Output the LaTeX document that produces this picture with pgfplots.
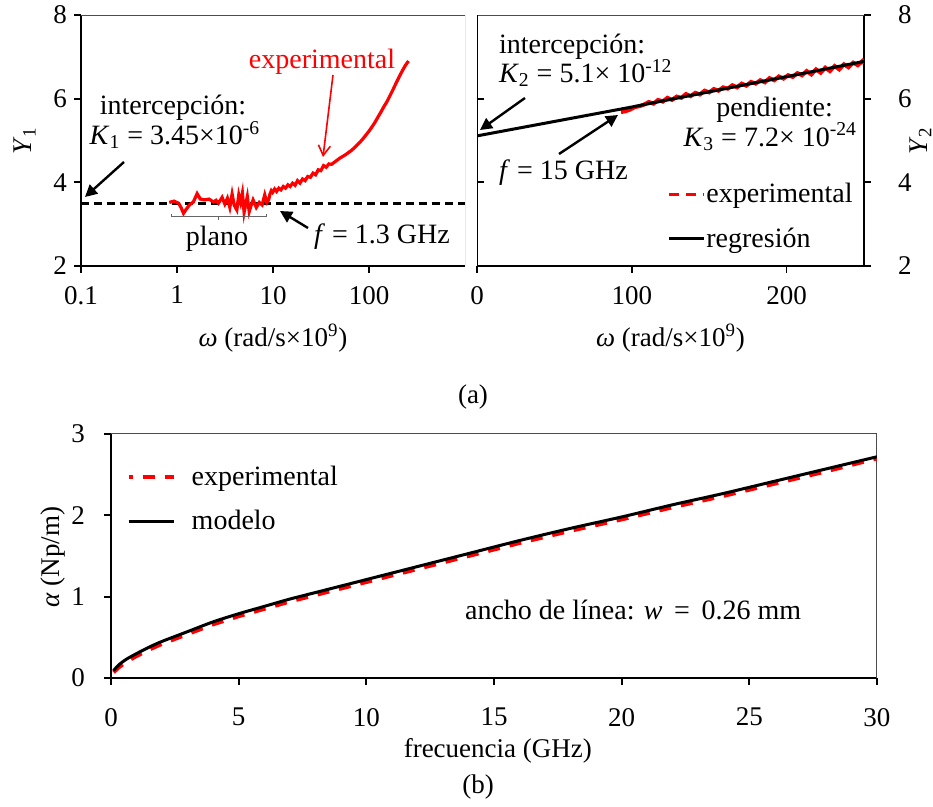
\documentclass[border=0pt]{standalone}
\usepackage{fontspec}
\setmainfont{Liberation Serif}
\usepackage{pgfplots}
\pgfplotsset{compat=1.18}
\usetikzlibrary{arrows.meta}

\newcommand\fs{\fontsize{13.5pt}{16pt}\selectfont}
\newcommand\fsb{\fontsize{14pt}{16pt}\selectfont}

% experimental Y1 (left panel, log frequency axis)
\pgfplotstableread{
w y
0.83 3.52
0.93 3.55
1.04 3.50
1.10 3.40
1.17 3.26
1.25 3.36
1.35 3.46
1.48 3.53
1.62 3.73
1.75 3.60
1.95 3.58
2.15 3.60
2.40 3.53
2.55 3.57
2.70 3.50
2.95 3.64
3.15 3.48
3.35 3.62
3.55 3.40
3.75 3.72
3.95 3.45
4.20 3.34
4.40 3.70
4.60 3.52
4.80 3.74
5.00 3.28
5.20 3.48
5.40 3.66
5.65 3.30
5.90 3.44
6.20 3.58
6.70 3.40
7.20 3.52
7.70 3.46
8.20 3.70
8.60 3.52
9.00 3.58
9.30 3.72
9.60 3.80
9.90 3.76
10.4 3.84
10.9 3.78
11.5 3.86
12.1 3.82
12.8 3.90
13.5 3.86
14.3 3.94
15.1 3.90
16.0 3.98
17.0 3.93
18.0 4.04
19.1 3.98
20.3 4.08
21.6 4.04
23.0 4.14
24.5 4.12
26.1 4.22
27.8 4.18
29.6 4.30
31.5 4.28
33.6 4.40
35.8 4.36
38.2 4.44
40.8 4.43
43.6 4.48
46.6 4.53
49.8 4.58
53.3 4.62
57.0 4.66
61.0 4.71
65.3 4.76
70.0 4.82
75.0 4.89
80.5 4.96
86.4 5.04
92.8 5.13
99.7 5.22
107 5.32
115 5.43
124 5.56
133 5.68
143 5.81
154 5.93
166 6.08
179 6.23
193 6.39
208 6.54
224 6.68
240 6.80
258 6.90
}\yone

% experimental Y2 (right panel)
\pgfplotstableread{
w y
93 5.68
96 5.70
99 5.74
102 5.80
105 5.82
108 5.86
111 5.92
114 5.88
117 5.97
120 5.93
123 6.02
126 5.97
129 6.05
132 6.02
135 6.11
138 6.06
141 6.14
144 6.10
147 6.19
150 6.15
153 6.23
156 6.19
159 6.27
162 6.24
165 6.32
168 6.27
171 6.36
174 6.31
177 6.40
180 6.36
183 6.44
186 6.39
189 6.49
192 6.44
195 6.53
198 6.48
201 6.56
204 6.52
207 6.61
210 6.56
213 6.66
216 6.58
219 6.70
222 6.62
225 6.74
228 6.66
231 6.78
234 6.70
237 6.82
240 6.75
243 6.86
246 6.80
249 6.90
250 6.84
}\ytwo

% regression line for Y2
\pgfplotstableread{
w y
0 5.11
100 5.80
250 6.89
}\yreg

% attenuation: measured and model
\pgfplotstableread{
f exp mod
0.1 0.07 0.09
0.3 0.13 0.16
0.6 0.20 0.23
1 0.27 0.30
1.5 0.35 0.38
2 0.42 0.45
3 0.54 0.57
4 0.66 0.69
5 0.76 0.79
6 0.85 0.88
7 0.94 0.97
8 1.02 1.05
9 1.10 1.13
10 1.18 1.21
12 1.34 1.37
14 1.50 1.53
16 1.66 1.69
18 1.81 1.84
20 1.95 1.98
22 2.10 2.13
24 2.24 2.27
26 2.39 2.42
28 2.54 2.57
30 2.70 2.72
}\alfa

\pgfplotsset{
  panel/.style={
    scale only axis,
    anchor=south west,
    axis line style={line width=0.9pt},
    tick style={line width=0.9pt, black},
    major tick length=3.5pt,
    tick align=outside,
    tick label style={font=\fs},
    label style={font=\fs},
    /pgf/number format/assume math mode=true,
    axis x line*=bottom,
  },
}

\begin{document}
\begin{tikzpicture}[x=1pt, y=1pt]
\useasboundingbox (0,0) rectangle (466.5,403.5);

% ---------- (a) left: Y1 ----------
\begin{axis}[panel,
  at={(40.5pt,270.5pt)}, width=192pt, height=125.5pt,
  axis y line*=left,
  xmode=log, xmin=0.1, xmax=1000, ymin=2, ymax=8,
  xtick={0.1,1,10,100}, xticklabels={0.1,1,10,100},
  xminorticks=false,
  ytick={2,4,6,8},
  xticklabel style={yshift=-3pt},
  xlabel={\textit{ω} (rad/s×10\textsuperscript{9})},
  xlabel style={at={(axis description cs:0.5,-0.287)}, anchor=center},
  ylabel={\textit{Y}\textsubscript{1}},
  ylabel style={at={(axis description cs:-0.147,0.5)}, anchor=center},
]
\draw[black!70, line width=0.5pt] (rel axis cs:0,1) -- (rel axis cs:1,1) -- (rel axis cs:1,0);
\addplot[black, line width=1.3pt, dash pattern=on 4pt off 2.5pt] coordinates {(0.1,3.5) (1000,3.5)};
\addplot[red, line width=1.6pt] table[x=w, y=y] {\yone};
\end{axis}

% ---------- (a) right: Y2 ----------
\begin{axis}[panel,
  at={(238.5pt,270.5pt)}, width=193.5pt, height=125.5pt,
  axis y line*=right,
  xmin=0, xmax=250, ymin=2, ymax=8,
  xtick={0,100,200}, ytick={2,4,6,8},
  xticklabel style={yshift=-3pt},
  yticklabel style={xshift=10pt},
  xlabel={\textit{ω} (rad/s×10\textsuperscript{9})},
  xlabel style={at={(axis description cs:0.5,-0.287)}, anchor=center},
  ylabel={\textit{Y}\textsubscript{2}},
  ylabel style={at={(axis description cs:1.146,0.5)}, anchor=center},
  legend style={draw=none, fill=none, at={(axis description cs:0.491,0.335)},
    anchor=north west, font=\fsb, row sep=10pt, inner sep=0pt,
    nodes={inner sep=0.5pt}},
  legend cell align=left,
]
\draw[black!70, line width=0.5pt] (rel axis cs:0,1) -- (rel axis cs:1,1);
\draw[line width=0.9pt] (rel axis cs:0,0) -- (rel axis cs:0,1);
\draw[line width=0.9pt] (axis cs:0,4) -- ([xshift=3.5pt]axis cs:0,4);
\draw[line width=0.9pt] (axis cs:0,6) -- ([xshift=3.5pt]axis cs:0,6);
\addplot[red, line width=2pt,
  legend image code/.code={\draw[red, line width=1.5pt, dash pattern=on 5pt off 3.5pt] (0pt,0pt) -- (17.5pt,0pt);}]
  table[x=w, y=y] {\ytwo};
\addlegendentry{experimental}
\addplot[black, line width=1.5pt,
  legend image code/.code={\draw[black, line width=1.5pt] (0pt,0pt) -- (17.5pt,0pt);}]
  table[x=w, y=y] {\yreg};
\addlegendentry{regresión}
\end{axis}

% ---------- (b): attenuation ----------
\begin{axis}[panel,
  at={(55.5pt,64.5pt)}, width=383pt, height=122pt,
  axis y line*=left,
  xmin=0, xmax=30, ymin=0, ymax=3,
  xtick={0,5,...,30}, ytick={0,1,2,3},
  xticklabel style={yshift=-8pt},
  yticklabel style={xshift=-6pt},
  xlabel={frecuencia (GHz)},
  xlabel style={at={(axis description cs:0.505,-0.30)}, anchor=center},
  ylabel={\textit{α} (Np/m)},
  ylabel style={at={(axis description cs:-0.0757,0.496)}, anchor=center},
  legend style={draw=none, fill=none, at={(axis description cs:0.02,0.875)},
    anchor=north west, font=\fsb, row sep=10pt, inner sep=0pt,
    nodes={inner sep=0.5pt}},
  legend cell align=left,
]
\draw[black!70, line width=0.5pt] (rel axis cs:0,1) -- (rel axis cs:1,1) -- (rel axis cs:1,0);
\addplot[red, line width=2pt, dash pattern=on 6pt off 5pt,
  legend image code/.code={\draw[red, line width=2pt, dash pattern=on 6pt off 5pt, dash phase=4pt] (0pt,0pt) -- (22.5pt,0pt); \path (30pt,0pt);}]
  table[x=f, y=exp] {\alfa};
\addlegendentry{experimental}
\addplot[black, line width=1.5pt, smooth,
  legend image code/.code={\draw[black, line width=1.5pt] (0pt,0pt) -- (22.5pt,0pt); \path (30pt,0pt);}]
  table[x=f, y=mod] {\alfa};
\addlegendentry{modelo}
\end{axis}

% ---------- annotations ----------
\node[red, font=\fsb] at (161,372.5) {experimental};
\draw[red, line width=0.8pt, -{Straight Barb[length=5pt, width=6pt]}] (166.5,366) -- (161.5,325);

\node[font=\fsb] at (86.5,349.5) {intercepción:};
\node[font=\fsb] at (87.5,336) {\textit{K}\textsubscript{1} = 3.45×10\textsuperscript{-6}};
\draw[line width=1.2pt, -{Triangle[length=6pt, width=6pt]}] (62,322.5) -- (42.5,305);

\node[font=\fsb] at (191,285) {\textit{f} = 1.3 GHz};
\draw[line width=1.2pt, -{Triangle[length=6pt, width=6pt]}] (154,289.5) -- (140,298);

\draw[black!60, line width=0.5pt] (85.5,296.5) -- (85.5,295) -- (133,295) -- (133,296.5);
\draw[black!60, line width=0.5pt] (109,295) -- (109,293.5);
\node[font=\fsb] at (108.5,284) {plano};

\node[font=\fsb, anchor=west] at (246,380) {intercepción:};
\node[font=\fsb, anchor=west] at (246,367) {\textit{K}\textsubscript{2} = 5.1× 10\textsuperscript{-12}};
\draw[line width=1.2pt, -{Triangle[length=6pt, width=6pt]}] (262.5,354.5) -- (240,338.5);

\node[font=\fsb, anchor=west] at (246,317) {\textit{f} = 15 GHz};
\draw[line width=1.2pt, -{Triangle[length=6pt, width=6pt]}] (279.5,326.5) -- (309,346);

\node[font=\fsb, anchor=east] at (420,348.5) {pendiente:};
\node[font=\fsb, anchor=east] at (432,335) {\textit{K}\textsubscript{3} = 7.2× 10\textsuperscript{-24}};

\node[font=\fsb, anchor=west] at (229,98.5) {ancho de línea: \textit{w} \,=\, 0.26 mm};

\node[font=\fs] at (236.5,205) {(a)};
\node[font=\fs] at (239,10) {(b)};
\end{tikzpicture}
\end{document}
